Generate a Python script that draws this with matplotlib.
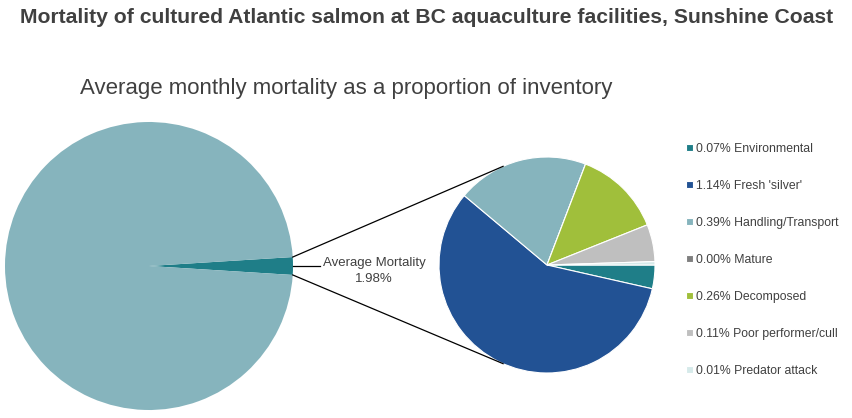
import numpy as np
import matplotlib.pyplot as plt

plt.rcParams["font.family"] = ["Liberation Sans", "DejaVu Sans"]

# data
causes = ["Environmental", "Fresh 'silver'", "Handling/Transport", "Mature",
          "Decomposed", "Poor performer/cull", "Predator attack"]
mortality_pct = [0.07, 1.14, 0.39, 0.00, 0.26, 0.11, 0.01]
average_mortality = 1.98
survivors = 100 - average_mortality

cause_colors = ["#1f7e88", "#225294", "#86b4bd", "#7f7f7f",
                "#a0bf3b", "#bfbfbf", "#d6eaea"]
big_color = "#86b4bd"
text_color = "#404040"

fig = plt.figure(figsize=(8.52, 4.18), dpi=100)
ax = fig.add_axes([0, 0, 1, 1])
ax.set_xlim(0, 852)
ax.set_ylim(0, 418)
ax.set_aspect("equal")
ax.axis("off")

# ---- big pie ----
big_c, big_r = (149, 152), 144
half = average_mortality / 100 * 360 / 2
ax.pie([average_mortality, survivors], colors=[cause_colors[0], big_color],
       center=big_c, radius=big_r, startangle=half, counterclock=False,
       wedgeprops=dict(linewidth=0))

# ---- breakdown pie ----
small_c, small_r = (547, 153), 108
wedges, _ = ax.pie(mortality_pct, colors=cause_colors, center=small_c,
                   radius=small_r, startangle=0, counterclock=False,
                   wedgeprops=dict(edgecolor="white", linewidth=0.8))
ax.set_xlim(0, 852)
ax.set_ylim(0, 418)

# connector lines
for sgn in (1, -1):
    a0 = np.radians(sgn * half)
    a1 = np.radians(sgn * 114)
    x0 = big_c[0] + big_r * np.cos(a0)
    y0 = big_c[1] + big_r * np.sin(a0)
    x1 = small_c[0] + small_r * np.cos(a1)
    y1 = small_c[1] + small_r * np.sin(a1)
    ax.plot([x0, x1], [y0, y1], color="black", lw=0.9)

ax.plot([big_c[0] + big_r, big_c[0] + big_r + 27], [big_c[1], big_c[1]],
        color="black", lw=0.9)
ax.text(374, big_c[1] - 5, f"Average Mortality\n{average_mortality:.2f}%",
        ha="center", va="center", fontsize=9.5, color=text_color,
        linespacing=1.45)

# legend
labels = [f"{v:.2f}% {c}" for v, c in zip(mortality_pct, causes)]
ax.legend(wedges, labels, loc="upper left", bbox_to_anchor=(0.8, 0.67),
          frameon=False, fontsize=8.8, labelcolor=text_color,
          handlelength=0.5, handleheight=0.5, handletextpad=0.3,
          labelspacing=2.05, borderaxespad=0)

fig.text(0.023, 0.957, "Mortality of cultured Atlantic salmon at BC aquaculture facilities, Sunshine Coast",
         fontsize=15.2, fontweight="bold", color=text_color, va="center", ha="left")
fig.text(0.094, 0.789, "Average monthly mortality as a proportion of inventory",
         fontsize=16, color=text_color, va="center", ha="left")

fig.savefig("out.png", dpi=100)
